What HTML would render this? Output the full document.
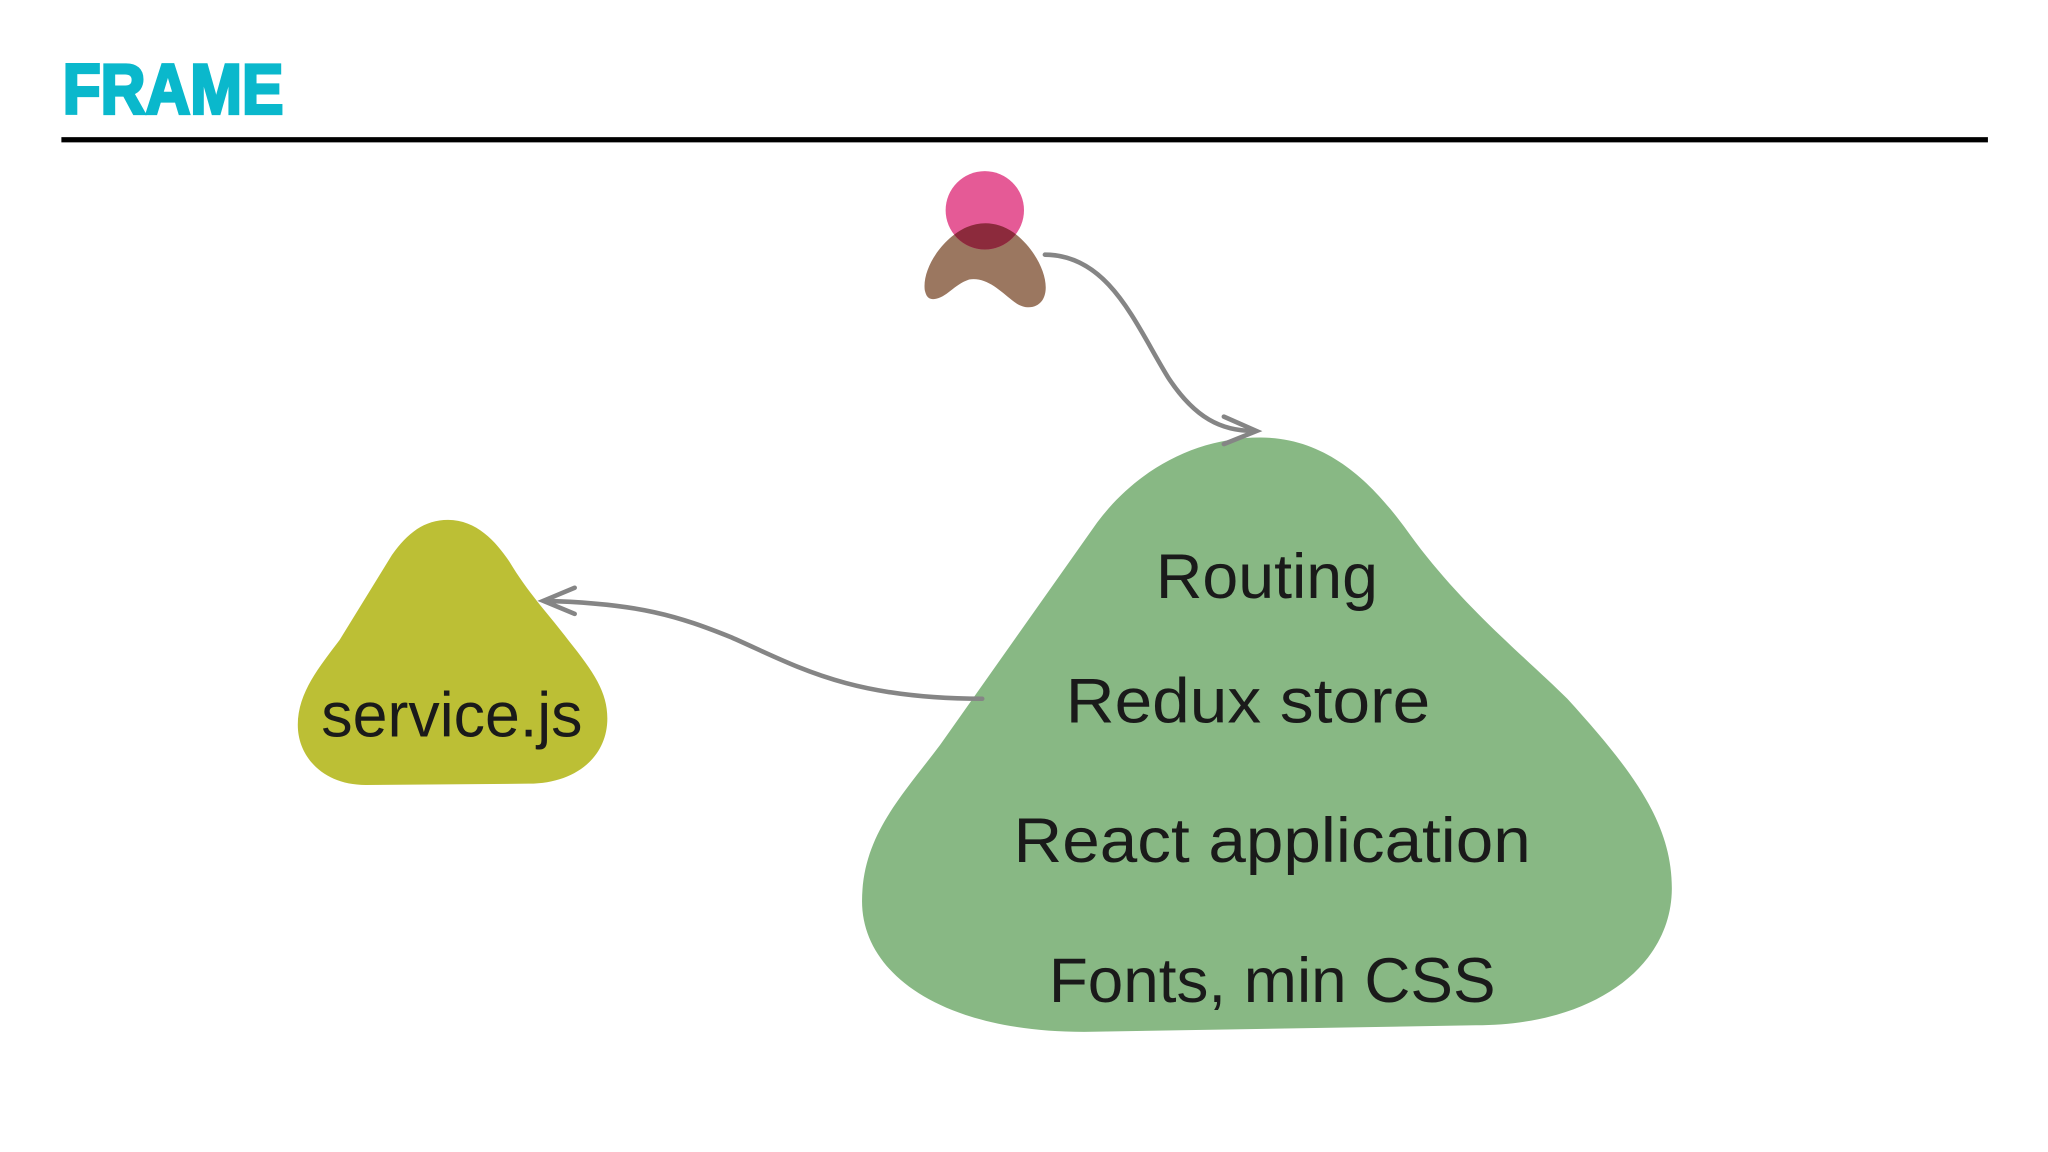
<!DOCTYPE html>
<html><head><meta charset="utf-8"><style>html,body{margin:0;padding:0;background:#fff}svg{display:block}</style></head>
<body>
<svg width="2048" height="1152" viewBox="0 0 1568 882" xmlns="http://www.w3.org/2000/svg">
<rect width="1568" height="882" fill="#fff"/>
<text x="48" y="87" font-family="Liberation Sans, sans-serif" font-weight="bold" font-size="54" fill="#0ab8cc" stroke="#0ab8cc" stroke-width="2.5" textLength="169" lengthAdjust="spacingAndGlyphs">FRAME</text>
<rect x="47" y="105" width="1475" height="4" fill="#000"/>
<defs>
<clipPath id="bc"><path d="M708,222 C706,205 722,182 740,174 C752,169 764,170 776,178 C795,192 806,218 798,230 C792,238 782,236 775,230 C765,222 755,212 742,214 C730,218 725,228 715,229 C710,229 709,226 708,222Z"/></clipPath>
</defs>
<path d="M708,222 C706,205 722,182 740,174 C752,169 764,170 776,178 C795,192 806,218 798,230 C792,238 782,236 775,230 C765,222 755,212 742,214 C730,218 725,228 715,229 C710,229 709,226 708,222Z" fill="#9b7760"/>
<circle cx="754" cy="161" r="30" fill="#e55a96"/>
<circle cx="754" cy="161" r="30" fill="#8c2a3c" clip-path="url(#bc)"/>
<path d="M965,335 C1020,335 1055,375 1080,410 C1120,465 1170,505 1200,535 C1250,590 1280,630 1280,680 C1280,740 1220,785 1130,785 L830,790 C720,790 660,745 660,690 C660,640 690,610 720,570 L840,400 C870,360 915,335 965,335 Z" fill="#88b884"/>
<path d="M343,398 C365,398 380,415 390,430 C405,455 420,470 435,490 C455,515 465,530 465,550 C465,580 440,600 405,600 L280,601 C248,601 228,580 228,555 C228,530 245,510 260,490 L300,425 C312,408 325,398 343,398Z" fill="#bcbf35"/>
<g fill="none" stroke="#858585" stroke-width="3.5" stroke-linecap="round">
<path d="M800,195 C850,195 870,250 895,290 C915,320 935,330 960,330"/>
<path d="M937,319 L962,330 L937,340"/>
<path d="M752,535 C650,535 610,510 560,488 C520,472 490,462 417,460"/>
<path d="M440,450 L416,460 L440,470"/>
</g>
<g font-family="Liberation Sans, sans-serif" font-size="48" fill="#1a1a1a">
<text x="885" y="458" textLength="170" lengthAdjust="spacingAndGlyphs">Routing</text>
<text x="816" y="553" textLength="279" lengthAdjust="spacingAndGlyphs">Redux store</text>
<text x="776" y="660" textLength="396" lengthAdjust="spacingAndGlyphs">React application</text>
<text x="803" y="767" textLength="342" lengthAdjust="spacingAndGlyphs">Fonts, min CSS</text>
<text x="246" y="564" textLength="200" lengthAdjust="spacingAndGlyphs">service.js</text>
</g>
</svg>
</body></html>
